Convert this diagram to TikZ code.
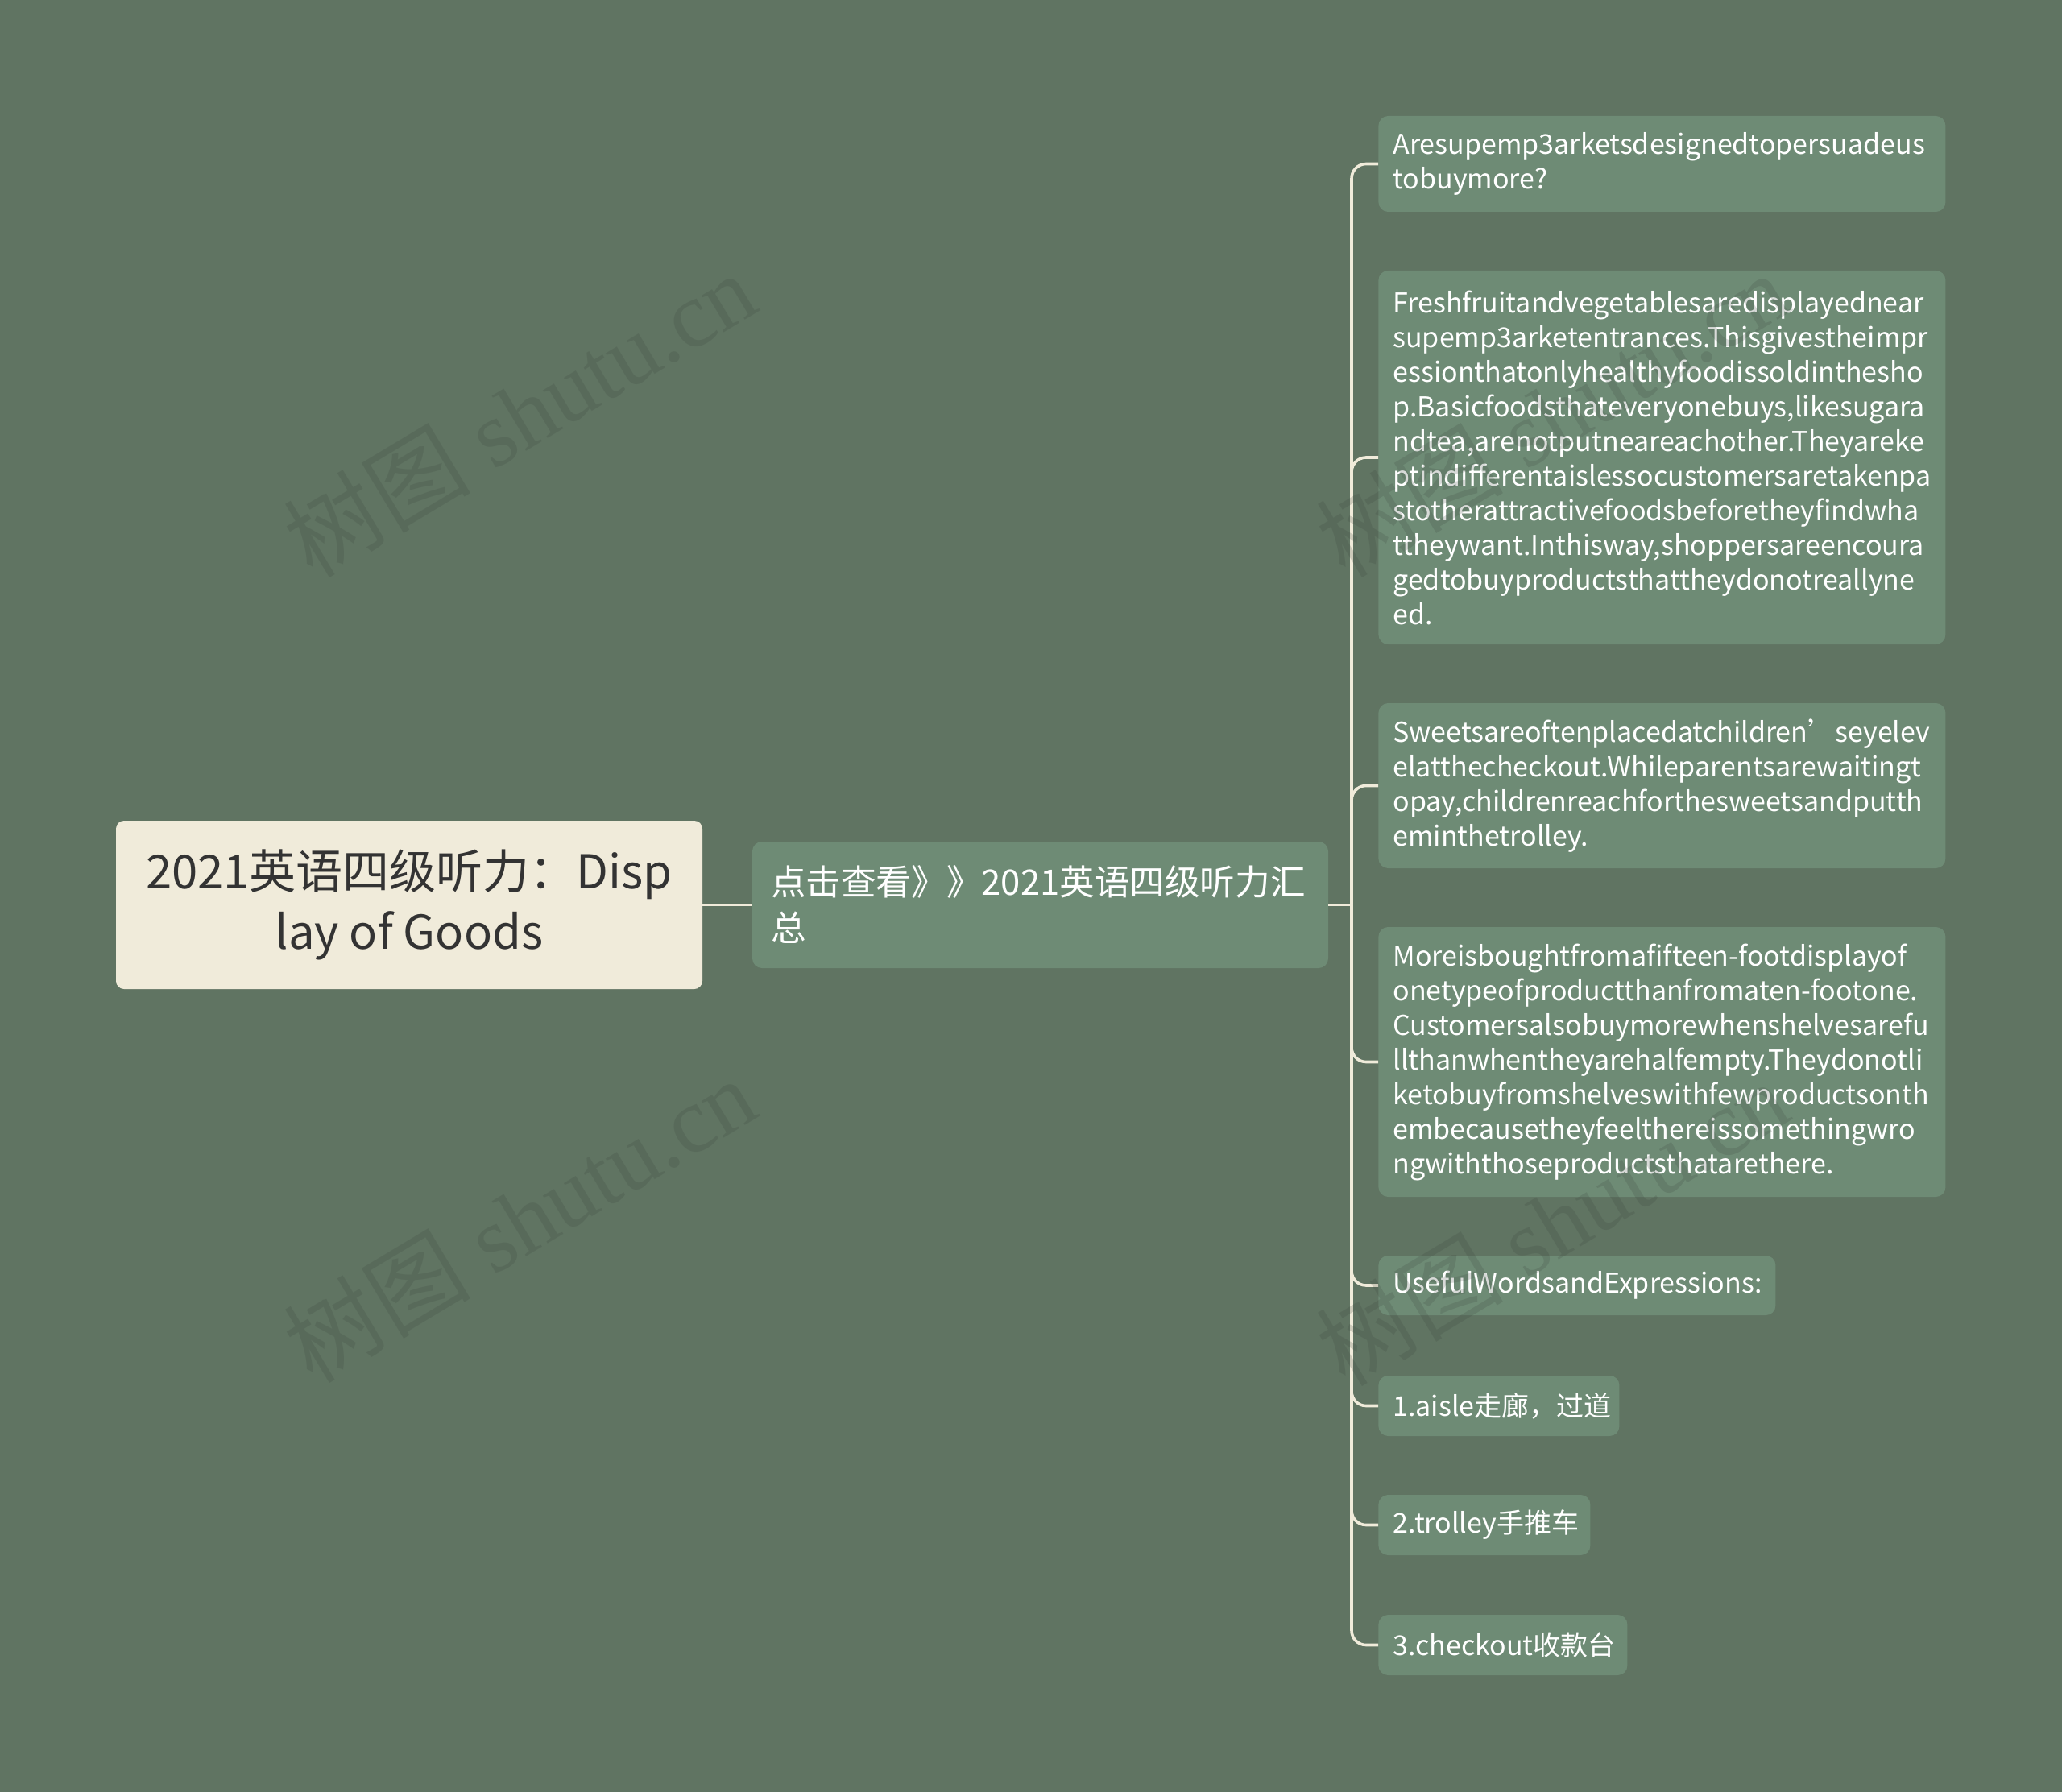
\documentclass[tikz,border=0pt]{standalone}
\usepackage{fontspec}
\newfontfamily\cjk{Noto Sans CJK SC}
\newfontfamily\wmserif{Liberation Serif}
\hyphenpenalty=10000
\exhyphenpenalty=10000
\definecolor{bgc}{RGB}{96,116,98}
\definecolor{leafc}{RGB}{110,139,117}
\definecolor{creamc}{RGB}{240,235,218}
\definecolor{rootText}{RGB}{51,51,51}
\definecolor{wmc}{RGB}{60,70,62}
\begin{document}
\begin{tikzpicture}[x=1pt,y=-1pt,
  rootbox/.style={fill=creamc, rounded corners=5pt, text=rootText, align=center,
    font=\cjk\fontsize{29}{37.5}\selectfont, inner sep=0pt,
    minimum width=364pt, minimum height=104.5pt},
  midbox/.style={fill=leafc, rounded corners=6pt, text=white, align=left,
    font=\cjk\fontsize{21.8}{28.5}\selectfont, inner xsep=11.5pt, inner ysep=0pt,
    text width=334.5pt, minimum height=78.5pt},
  leafbox/.style={fill=leafc, rounded corners=6pt, text=white, align=left, anchor=west,
    font=\cjk\fontsize{17}{21.5}\selectfont, inner xsep=9pt, inner ysep=0pt},
  conn/.style={draw=creamc, line width=1.8pt},
  wm/.style={text=wmc, text opacity=0.2, font=\wmserif\fontsize{58}{60}\selectfont, rotate=31}
]
\fill[bgc] (0,0) rectangle (1280,1112.5);
\useasboundingbox (0,0) rectangle (1280,1112.5);

\node[rootbox] (root) at (254,561.75) {2021英语四级听力：Disp\\lay of Goods};
\node[midbox] (mid) at (645.75,561.75) {点击查看》》2021英语四级听力汇\\总};

\node[leafbox, text width=334pt, minimum height=59.5pt] (l1) at (855.5,101.75)
  {Aresupemp3arketsdesignedtopersuadeus\\tobuymore?};
\node[leafbox, text width=334pt, minimum height=232pt] (l2) at (855.5,284)
  {Freshfruitandvegetablesaredisplayednear\\
   supemp3arketentrances.Thisgivestheimpr\\
   essionthatonlyhealthyfoodissoldinthesho\\
   p.Basicfoodsthateveryonebuys,likesugara\\
   ndtea,arenotputneareachother.Theyareke\\
   ptindifferentaislessocustomersaretakenpa\\
   stotherattractivefoodsbeforetheyfindwha\\
   ttheywant.Inthisway,shoppersareencoura\\
   gedtobuyproductsthattheydonotreallyne\\
   ed.};
\node[leafbox, text width=334pt, minimum height=102.5pt] (l3) at (855.5,487.75)
  {Sweetsareoftenplacedatchildren’seyelev\\
   elatthecheckout.Whileparentsarewaitingt\\
   opay,childrenreachforthesweetsandputth\\
   eminthetrolley.};
\node[leafbox, text width=334pt, minimum height=167.5pt] (l4) at (855.5,659.25)
  {Moreisboughtfromafifteen-footdisplayof\\
   onetypeofproductthanfromaten-footone.\\
   Customersalsobuymorewhenshelvesarefu\\
   llthanwhentheyarehalfempty.Theydonotli\\
   ketobuyfromshelveswithfewproductsonth\\
   embecausetheyfeelthereissomethingwro\\
   ngwiththoseproductsthatarethere.};
\node[leafbox, text width=228.5pt, minimum height=37pt] (l5) at (855.5,798) {UsefulWordsandExpressions:};
\node[leafbox, text width=131.5pt, minimum height=37.5pt] (l6) at (855.5,872.75) {1.aisle走廊，过道};
\node[leafbox, text width=113.5pt, minimum height=37.5pt] (l7) at (855.5,946.75) {2.trolley手推车};
\node[leafbox, text width=136.5pt, minimum height=37.5pt] (l8) at (855.5,1021.25) {3.checkout收款台};

\coordinate (hub) at (839,561.75);
\draw[conn] (root.east) -- (mid.west);
\draw[conn] (mid.east) -- (hub);
\foreach \n in {l1,l2,l3,l4,l5,l6,l7,l8}{
  \draw[conn, rounded corners=9pt] (hub) |- (\n.west);
}

\node[wm] (w1) at (322.5,257) {{\cjk 树图} shutu.cn};
\node[wm] (w2) at (322.5,757) {{\cjk 树图} shutu.cn};
\node[wm] (w3) at (963.5,257) {{\cjk 树图} shutu.cn};
\node[wm] (w4) at (963.5,759) {{\cjk 树图} shutu.cn};
\end{tikzpicture}
\end{document}
